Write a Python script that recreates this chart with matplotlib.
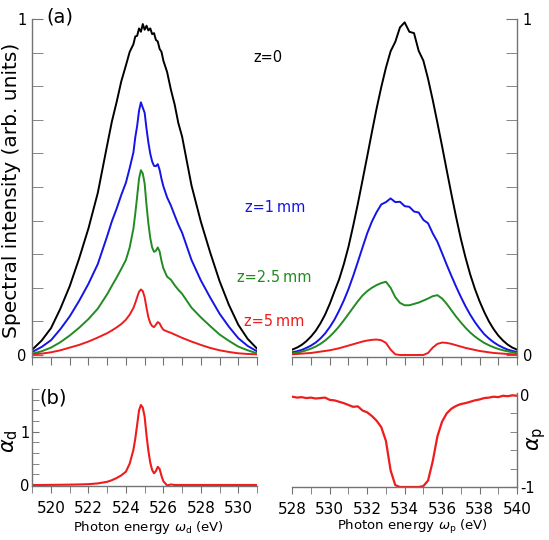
import matplotlib
matplotlib.use("Agg")
import matplotlib.pyplot as plt

# ---- data ----
# left panel (donor, omega_d) energies in eV
e_left = [519.0, 519.5, 520.0, 520.5, 521.0, 521.5, 522.0, 522.5, 523.0, 523.25,
          523.5, 523.75, 524.0, 524.2, 524.4, 524.5, 524.6, 524.7, 524.8, 524.9,
          525.0, 525.1, 525.2, 525.3, 525.4, 525.5, 525.6, 525.7, 525.8, 525.9,
          526.0, 526.2, 526.4, 526.6, 526.8, 527.0, 527.5, 528.0, 528.5, 529.0,
          529.5, 530.0, 530.5, 531.0]

black_left = [0.016, 0.043, 0.080, 0.138, 0.205, 0.287, 0.377, 0.483, 0.625, 0.695,
              0.752, 0.814, 0.862, 0.902, 0.925, 0.948, 0.950, 0.972, 0.962, 0.985,
              0.968, 0.980, 0.966, 0.972, 0.955, 0.958, 0.938, 0.933, 0.911, 0.902,
              0.876, 0.842, 0.790, 0.746, 0.690, 0.650, 0.505, 0.397, 0.305, 0.220,
              0.149, 0.090, 0.048, 0.019]

blue_left = [0.009, 0.024, 0.044, 0.077, 0.115, 0.161, 0.212, 0.271, 0.354, 0.398,
             0.435, 0.476, 0.513, 0.556, 0.603, 0.648, 0.682, 0.727, 0.752, 0.736,
             0.721, 0.673, 0.632, 0.599, 0.576, 0.563, 0.562, 0.568, 0.551, 0.524,
             0.502, 0.469, 0.445, 0.416, 0.388, 0.364, 0.283, 0.222, 0.171, 0.123,
             0.084, 0.050, 0.027, 0.011]

green_left = [0.004, 0.011, 0.022, 0.038, 0.058, 0.081, 0.107, 0.138, 0.181, 0.206,
              0.230, 0.256, 0.283, 0.320, 0.376, 0.421, 0.472, 0.525, 0.550, 0.540,
              0.510, 0.446, 0.391, 0.348, 0.320, 0.307, 0.310, 0.320, 0.308, 0.280,
              0.258, 0.233, 0.224, 0.208, 0.194, 0.182, 0.141, 0.112, 0.086, 0.061,
              0.042, 0.025, 0.014, 0.005]

red_left = [0.002, 0.004, 0.008, 0.014, 0.022, 0.030, 0.040, 0.052, 0.065, 0.073,
            0.082, 0.092, 0.105, 0.120, 0.140, 0.155, 0.172, 0.188, 0.195, 0.190,
            0.172, 0.140, 0.112, 0.095, 0.086, 0.083, 0.090, 0.098, 0.094, 0.083,
            0.075, 0.070, 0.066, 0.061, 0.056, 0.051, 0.040, 0.030, 0.021, 0.014,
            0.009, 0.005, 0.003, 0.002]

alpha_d = [0.0, 0.0, 0.002, 0.004, 0.006, 0.010, 0.015, 0.030, 0.060, 0.090,
           0.130, 0.180, 0.250, 0.400, 0.660, 0.870, 1.130, 1.400, 1.500, 1.450,
           1.280, 0.930, 0.640, 0.420, 0.280, 0.220, 0.260, 0.340, 0.300, 0.170,
           0.070, -0.010, 0.010, 0.0, 0.0, 0.0, 0.0, 0.0, 0.0, 0.0,
           0.0, 0.0, 0.0, 0.0]

# right panel (probe, omega_p) energies in eV
e_right = [528.0, 528.25, 528.5, 528.75, 529.0, 529.25, 529.5, 529.75, 530.0, 530.25,
           530.5, 530.75, 531.0, 531.25, 531.5, 531.75, 532.0, 532.25, 532.5, 532.75,
           533.0, 533.25, 533.5, 533.75, 534.0, 534.25, 534.5, 534.75, 535.0, 535.25,
           535.5, 535.75, 536.0, 536.25, 536.5, 536.75, 537.0, 537.25, 537.5, 537.75,
           538.0, 538.25, 538.5, 538.75, 539.0, 539.25, 539.5, 539.75, 540.0]

black_right = [0.016, 0.022, 0.030, 0.041, 0.055, 0.072, 0.094, 0.120, 0.152, 0.189,
               0.225, 0.270, 0.322, 0.384, 0.450, 0.520, 0.591, 0.663, 0.733, 0.797,
               0.855, 0.904, 0.932, 0.975, 0.990, 0.962, 0.958, 0.905, 0.876, 0.822,
               0.759, 0.691, 0.621, 0.549, 0.478, 0.410, 0.346, 0.290, 0.240, 0.197,
               0.160, 0.128, 0.100, 0.077, 0.058, 0.043, 0.031, 0.022, 0.016]

blue_right = [0.008, 0.011, 0.015, 0.021, 0.028, 0.037, 0.049, 0.064, 0.083, 0.105,
              0.132, 0.162, 0.196, 0.235, 0.277, 0.320, 0.362, 0.397, 0.425, 0.448,
              0.455, 0.466, 0.455, 0.456, 0.443, 0.441, 0.427, 0.424, 0.402, 0.392,
              0.362, 0.337, 0.303, 0.268, 0.235, 0.203, 0.173, 0.145, 0.120, 0.098,
              0.079, 0.062, 0.049, 0.038, 0.029, 0.022, 0.016, 0.012, 0.009]

green_right = [0.005, 0.007, 0.010, 0.014, 0.019, 0.025, 0.033, 0.043, 0.055, 0.069,
               0.085, 0.103, 0.122, 0.141, 0.160, 0.177, 0.190, 0.200, 0.208, 0.214,
               0.218, 0.200, 0.172, 0.155, 0.148, 0.148, 0.152, 0.156, 0.162, 0.168,
               0.175, 0.178, 0.168, 0.152, 0.133, 0.114, 0.097, 0.081, 0.067, 0.055,
               0.045, 0.036, 0.029, 0.023, 0.018, 0.014, 0.011, 0.008, 0.006]

red_right = [0.002, 0.003, 0.004, 0.005, 0.006, 0.008, 0.010, 0.012, 0.014, 0.017,
             0.020, 0.024, 0.028, 0.032, 0.036, 0.040, 0.043, 0.045, 0.046, 0.044,
             0.036, 0.016, 0.002, 0.0, 0.0, 0.0, 0.0, 0.0, 0.0, 0.006,
             0.022, 0.033, 0.037, 0.036, 0.033, 0.029, 0.025, 0.021, 0.018, 0.015,
             0.012, 0.010, 0.008, 0.006, 0.005, 0.004, 0.003, 0.002, 0.002]

alpha_p = [-0.020, -0.030, -0.025, -0.035, -0.030, -0.040, -0.035, -0.030, -0.055, -0.060,
           -0.075, -0.090, -0.110, -0.130, -0.125, -0.170, -0.190, -0.230, -0.280, -0.350,
           -0.500, -0.820, -0.980, -1.0, -1.0, -1.0, -1.0, -1.0, -0.990, -0.930,
           -0.720, -0.450, -0.290, -0.200, -0.150, -0.120, -0.100, -0.090, -0.075, -0.060,
           -0.050, -0.035, -0.030, -0.020, -0.025, -0.010, -0.015, -0.005, -0.010]

z_labels = ["z=0", "z=1\u2009mm", "z=2.5\u2009mm", "z=5\u2009mm"]
colors = ["black", "#1414e6", "#228b22", "#ee1c1c"]

W, H = 549, 540
fig = plt.figure(figsize=(W / 100, H / 100), dpi=100)
spine_col = "0.45"
plt.rcParams["mathtext.fontset"] = "dejavusans"


def px_axes(x0, y0, x1, y1):
    # axes from pixel box (top-left origin)
    return fig.add_axes([x0 / W, 1 - y1 / H, (x1 - x0) / W, (y1 - y0) / H])


def style(ax, side):
    for s in ["top", "left", "right"]:
        ax.spines[s].set_visible(False)
    ax.spines[side].set_visible(True)
    for s in ax.spines.values():
        s.set_color(spine_col)
        s.set_linewidth(1.0)
    if side == "right":
        ax.yaxis.tick_right()
        ax.yaxis.set_label_position("right")


ax_tl = px_axes(32.3, 19, 257, 357)
ax_tr = px_axes(292.3, 19, 517, 357)
ax_bl = px_axes(32.3, 389, 257, 486)
ax_br = px_axes(292.3, 393, 517, 487)

left_curves = [black_left, blue_left, green_left, red_left]
right_curves = [black_right, blue_right, green_right, red_right]
for vals, c in zip(left_curves, colors):
    ax_tl.plot(e_left, vals, color=c, lw=1.4)
for vals, c in zip(right_curves, colors):
    ax_tr.plot(e_right, vals, color=c, lw=1.4)

ax_bl.plot(e_left, alpha_d, color=colors[3], lw=1.5)
ax_br.plot(e_right, alpha_p, color=colors[3], lw=1.6)

# top panels
for ax, lo, side in [(ax_tl, 519, "left"), (ax_tr, 528, "right")]:
    style(ax, side)
    ax.set_xlim(lo, lo + 12)
    ax.set_ylim(-0.006, 1.0)
    ax.set_xticks(range(lo, lo + 13))
    ax.tick_params(axis="x", direction="out", length=6, color=spine_col, labelbottom=False)
    ax.set_yticks([0, 1])
    ax.set_yticklabels(["0", "1"])
    ax.set_yticks([i / 10 for i in range(1, 10)], minor=True)
    ax.tick_params(axis="y", which="both", direction="in", length=8, color=spine_col,
                   labelsize=10.5, pad=4)

# bottom panels
style(ax_bl, "left")
ax_bl.set_xlim(519, 531)
ax_bl.set_ylim(-0.019, 1.8)
ax_bl.set_xticks(range(520, 531, 2))
ax_bl.set_xticks(range(519, 532, 2), minor=True)
ax_bl.set_yticks([0, 1])
ax_bl.set_yticklabels(["0", "1"])
ax_bl.set_yticks([0.2, 0.4, 0.6, 0.8, 1.2, 1.4, 1.6, 1.8], minor=True)

style(ax_br, "right")
ax_br.set_xlim(528, 540)
ax_br.set_ylim(-1.0, 0.02)
ax_br.set_xticks(range(528, 541, 2))
ax_br.set_xticks(range(529, 540, 2), minor=True)
ax_br.set_yticks([-1, 0])
ax_br.set_yticklabels(["-1", "0"])
ax_br.set_yticks([-0.8, -0.6, -0.4, -0.2], minor=True)

for ax in (ax_bl, ax_br):
    ax.tick_params(axis="x", which="both", direction="out", length=5, color=spine_col,
                   labelsize=11, pad=6)
    ax.tick_params(axis="y", which="both", direction="in", length=5, color=spine_col,
                   labelsize=10.5, pad=2)


def ftext(x, y, s, **kw):
    fig.text(x / W, 1 - y / H, s, ha="center", va="center", **kw)


ftext(60, 17, "(a)", fontsize=14)
ftext(53, 398, "(b)", fontsize=14)
ftext(12, 190, "Spectral intensity (arb. units)", fontsize=14.5, rotation=90)
ftext(10, 441, r"$\alpha_{\rm d}$", fontsize=15, rotation=90)
ftext(537, 439, r"$\alpha_{\rm p}$", fontsize=15, rotation=90)
ftext(148, 527, r"Photon energy $\omega_{\rm d}$ (eV)", fontsize=9.5)
ftext(412, 527, r"Photon energy $\omega_{\rm p}$ (eV)", fontsize=9.5)

for (x, y), s, c in zip([(268, 57), (275, 207), (274, 277), (274, 322)], z_labels, colors):
    ftext(x, y, s, fontsize=10.5, color=c)

fig.savefig("out.png", dpi=100)
